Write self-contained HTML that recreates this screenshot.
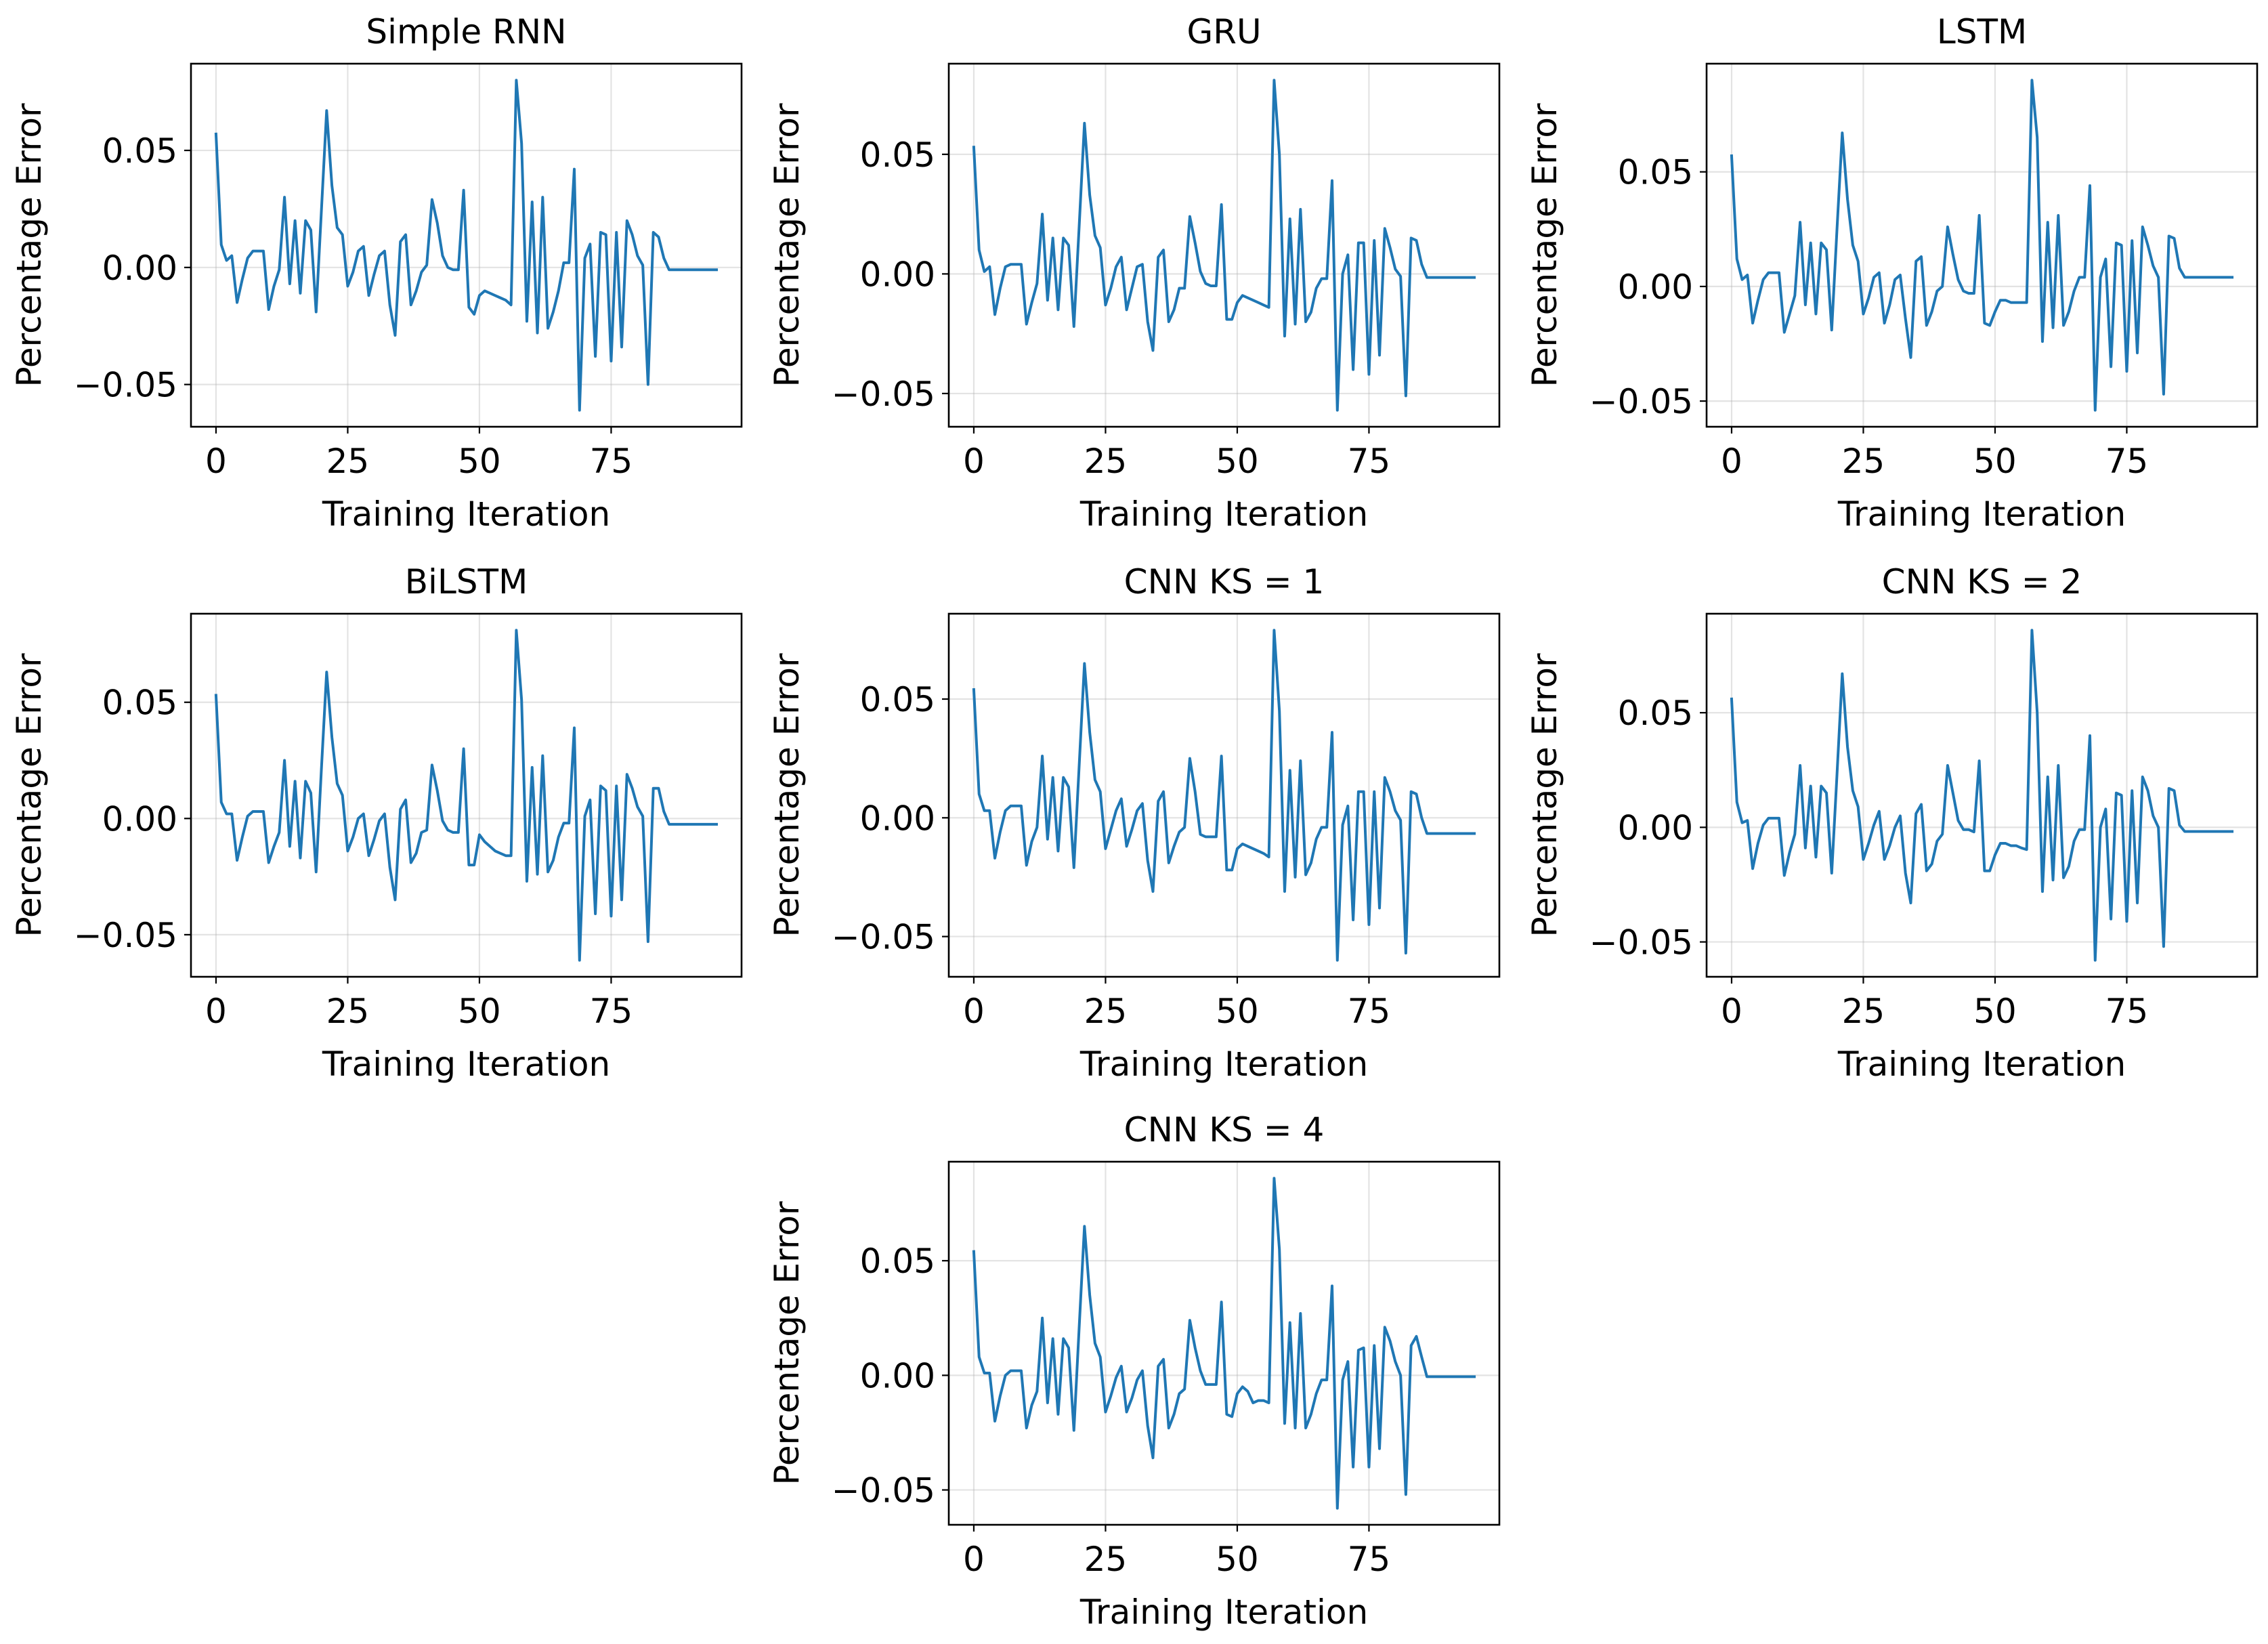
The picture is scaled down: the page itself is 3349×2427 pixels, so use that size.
<!DOCTYPE html>
<html><head><meta charset="utf-8">
<style>
html,body{margin:0;padding:0;background:#fff;}
svg{display:block;font-family:"DejaVu Sans","Liberation Sans",sans-serif;}
</style></head>
<body>
<svg id="fig" width="3349" height="2427" viewBox="0 0 3349 2427" xmlns="http://www.w3.org/2000/svg"></svg>
<script>
const titles = ["Simple RNN","GRU","LSTM","BiLSTM","CNN KS = 1","CNN KS = 2","CNN KS = 4"];
const xTicks = [0,25,50,75];
const yTicks = [-0.05,0,0.05];
const yTickLabels = ["\u22120.05","0.00","0.05"];
const rnnValues = [0.057,0.0097,0.003,0.005,-0.015,-0.005,0.004,0.007,0.007,0.007,-0.018,-0.008,-0.001,0.030,-0.007,0.020,-0.011,0.020,0.016,-0.019,0.024,0.067,0.035,0.017,0.014,-0.008,-0.002,0.007,0.009,-0.012,-0.003,0.005,0.007,-0.016,-0.029,0.011,0.014,-0.016,-0.010,-0.002,0.001,0.029,0.019,0.005,0.000,-0.001,-0.001,0.033,-0.017,-0.020,-0.012,-0.010,-0.011,-0.012,-0.013,-0.014,-0.016,0.080,0.053,-0.023,0.028,-0.028,0.030,-0.026,-0.019,-0.010,0.002,0.002,0.042,-0.061,0.004,0.010,-0.038,0.015,0.014,-0.040,0.015,-0.034,0.020,0.014,0.005,0.001,-0.050,0.015,0.013,0.004,-0.001,-0.001,-0.001,-0.001,-0.001,-0.001,-0.001,-0.001,-0.001,-0.001];
const gruValues = [0.053,0.010,0.001,0.003,-0.017,-0.006,0.003,0.004,0.004,0.004,-0.021,-0.012,-0.004,0.025,-0.011,0.015,-0.015,0.015,0.012,-0.022,0.020,0.063,0.033,0.016,0.011,-0.013,-0.006,0.003,0.007,-0.015,-0.006,0.003,0.004,-0.020,-0.032,0.007,0.010,-0.020,-0.015,-0.006,-0.006,0.024,0.013,0.001,-0.004,-0.005,-0.005,0.029,-0.019,-0.019,-0.012,-0.009,-0.010,-0.011,-0.012,-0.013,-0.014,0.081,0.050,-0.026,0.023,-0.021,0.027,-0.020,-0.016,-0.006,-0.002,-0.002,0.039,-0.057,0.000,0.008,-0.040,0.013,0.013,-0.042,0.014,-0.034,0.019,0.011,0.002,-0.001,-0.051,0.015,0.014,0.004,-0.0015,-0.0015,-0.0015,-0.0015,-0.0015,-0.0015,-0.0015,-0.0015,-0.0015,-0.0015];
const lstmValues = [0.057,0.012,0.003,0.005,-0.016,-0.006,0.003,0.006,0.006,0.006,-0.020,-0.012,-0.004,0.028,-0.008,0.019,-0.012,0.019,0.016,-0.019,0.025,0.067,0.038,0.018,0.011,-0.012,-0.005,0.004,0.006,-0.016,-0.008,0.003,0.005,-0.014,-0.031,0.011,0.013,-0.017,-0.011,-0.002,0.000,0.026,0.014,0.003,-0.002,-0.003,-0.003,0.031,-0.016,-0.017,-0.011,-0.006,-0.006,-0.007,-0.007,-0.007,-0.007,0.090,0.065,-0.024,0.028,-0.018,0.031,-0.017,-0.011,-0.002,0.004,0.004,0.044,-0.054,0.004,0.012,-0.035,0.019,0.018,-0.037,0.020,-0.029,0.026,0.018,0.009,0.004,-0.047,0.022,0.021,0.008,0.004,0.004,0.004,0.004,0.004,0.004,0.004,0.004,0.004,0.004];
const bilstmValues = [0.053,0.007,0.002,0.002,-0.018,-0.008,0.001,0.003,0.003,0.003,-0.019,-0.012,-0.006,0.025,-0.012,0.016,-0.017,0.016,0.011,-0.023,0.021,0.063,0.035,0.015,0.010,-0.014,-0.008,0.000,0.002,-0.016,-0.009,-0.001,0.002,-0.021,-0.035,0.004,0.008,-0.019,-0.015,-0.006,-0.005,0.023,0.012,-0.001,-0.005,-0.006,-0.006,0.030,-0.020,-0.020,-0.007,-0.010,-0.012,-0.014,-0.015,-0.016,-0.016,0.081,0.051,-0.027,0.022,-0.024,0.027,-0.023,-0.018,-0.008,-0.002,-0.002,0.039,-0.061,0.001,0.008,-0.041,0.014,0.012,-0.042,0.014,-0.035,0.019,0.013,0.005,0.001,-0.053,0.013,0.013,0.003,-0.0025,-0.0025,-0.0025,-0.0025,-0.0025,-0.0025,-0.0025,-0.0025,-0.0025,-0.0025];
const cnn1Values = [0.054,0.010,0.003,0.003,-0.017,-0.006,0.003,0.005,0.005,0.005,-0.020,-0.010,-0.004,0.026,-0.009,0.017,-0.014,0.017,0.013,-0.021,0.022,0.065,0.036,0.016,0.011,-0.013,-0.005,0.003,0.008,-0.012,-0.005,0.003,0.006,-0.018,-0.031,0.007,0.011,-0.019,-0.012,-0.006,-0.004,0.025,0.011,-0.007,-0.008,-0.008,-0.008,0.026,-0.022,-0.022,-0.013,-0.011,-0.012,-0.013,-0.014,-0.015,-0.0165,0.079,0.045,-0.031,0.020,-0.025,0.024,-0.024,-0.019,-0.009,-0.004,-0.004,0.036,-0.060,-0.003,0.005,-0.043,0.011,0.011,-0.045,0.011,-0.038,0.017,0.011,0.003,-0.001,-0.057,0.011,0.010,0.000,-0.0066,-0.0066,-0.0066,-0.0066,-0.0066,-0.0066,-0.0066,-0.0066,-0.0066,-0.0066];
const cnn2Values = [0.056,0.011,0.002,0.003,-0.018,-0.007,0.001,0.004,0.004,0.004,-0.021,-0.011,-0.003,0.027,-0.009,0.018,-0.013,0.018,0.015,-0.020,0.023,0.067,0.035,0.016,0.009,-0.014,-0.007,0.001,0.007,-0.014,-0.008,0.000,0.005,-0.020,-0.033,0.006,0.010,-0.019,-0.016,-0.006,-0.003,0.027,0.015,0.003,-0.001,-0.001,-0.002,0.029,-0.019,-0.019,-0.012,-0.007,-0.007,-0.008,-0.008,-0.009,-0.0097,0.086,0.050,-0.028,0.022,-0.023,0.027,-0.022,-0.017,-0.006,-0.001,-0.001,0.040,-0.058,0.000,0.008,-0.040,0.015,0.014,-0.041,0.016,-0.033,0.022,0.016,0.005,0.000,-0.052,0.017,0.016,0.001,-0.0018,-0.0018,-0.0018,-0.0018,-0.0018,-0.0018,-0.0018,-0.0018,-0.0018,-0.0018];
const cnn4Values = [0.054,0.008,0.001,0.001,-0.020,-0.009,0.000,0.002,0.002,0.002,-0.023,-0.013,-0.007,0.025,-0.012,0.016,-0.017,0.016,0.012,-0.024,0.021,0.065,0.035,0.014,0.008,-0.016,-0.009,-0.001,0.004,-0.016,-0.010,-0.002,0.002,-0.022,-0.036,0.004,0.007,-0.023,-0.017,-0.008,-0.006,0.024,0.012,0.002,-0.004,-0.004,-0.004,0.032,-0.017,-0.018,-0.008,-0.005,-0.007,-0.012,-0.011,-0.011,-0.012,0.086,0.055,-0.021,0.023,-0.023,0.027,-0.023,-0.017,-0.008,-0.002,-0.002,0.039,-0.058,-0.002,0.006,-0.040,0.011,0.012,-0.040,0.013,-0.032,0.021,0.015,0.006,0.000,-0.052,0.013,0.017,0.008,-0.0006,-0.0006,-0.0006,-0.0006,-0.0006,-0.0006,-0.0006,-0.0006,-0.0006,-0.0006];
const seriesList = [rnnValues,gruValues,lstmValues,bilstmValues,cnn1Values,cnn2Values,cnn4Values];
const panelNames = ["simple-rnn","gru","lstm","bilstm","cnn-ks1","cnn-ks2","cnn-ks4"];

const NS = "http://www.w3.org/2000/svg";
const fig = document.getElementById("fig");
const colX = [282,1401,2520], rowY = [94,906,1715];
const W = 813, H = 536;
const cells = [[0,0],[1,0],[2,0],[0,1],[1,1],[2,1],[1,2]];
function mk(tag, attrs, parent){ const e=document.createElementNS(NS,tag); for(const k in attrs) e.setAttribute(k,attrs[k]); parent.appendChild(e); return e; }

seriesList.forEach((vals, p) => {
  const x0 = colX[cells[p][0]], y0 = rowY[cells[p][1]];
  const g = mk("g", {}, fig);
  
  
  const n = vals.length;
  const xmin = 0 - 0.05*(n-1), xmax = (n-1) + 0.05*(n-1);
  let lo = Math.min(...vals), hi = Math.max(...vals);
  const pad = (hi-lo)*0.05; lo -= pad; hi += pad;
  const sx = v => x0 + (v - xmin)/(xmax - xmin)*W;
  const sy = v => y0 + H - (v - lo)/(hi - lo)*H;
  xTicks.forEach(t => {
    const l = mk("line",{x1:sx(t),x2:sx(t),y1:y0,y2:y0+H,stroke:"#b0b0b0","stroke-opacity":0.35,"stroke-width":2.2},g);
    
    
  });
  yTicks.forEach(t => {
    const l = mk("line",{x1:x0,x2:x0+W,y1:sy(t),y2:sy(t),stroke:"#b0b0b0","stroke-opacity":0.35,"stroke-width":2.2},g);
    
    
  });
  const d = vals.map((v,i)=>(i?"L":"M")+sx(i).toFixed(2)+","+sy(v).toFixed(2)).join("");
  const path = mk("path",{d:d,fill:"none",stroke:"#1f77b4","stroke-width":4,"stroke-linejoin":"round","stroke-linecap":"square"},g);
  
  
  const box = mk("rect",{x:x0,y:y0,width:W,height:H,fill:"none",stroke:"#000","stroke-width":2.6},g);
  
  
  xTicks.forEach(t => {
    const tk = mk("line",{x1:sx(t),x2:sx(t),y1:y0+H,y2:y0+H+10,stroke:"#000","stroke-width":2.2},g);
    
    
    const tx = mk("text",{x:sx(t),y:y0+H+68,"font-size":50,"text-anchor":"middle",fill:"#000"},g);
    tx.textContent = String(t);
    
    
  });
  yTicks.forEach((t,i) => {
    const tk = mk("line",{x1:x0-10,x2:x0,y1:sy(t),y2:sy(t),stroke:"#000","stroke-width":2.2},g);
    
    
    const tx = mk("text",{x:x0-20,y:sy(t)+18,"font-size":50,"text-anchor":"end",fill:"#000"},g);
    tx.textContent = yTickLabels[i];
    
    
  });
  const tt = mk("text",{x:x0+W/2,y:y0-30,"font-size":50,"text-anchor":"middle",fill:"#000"},g);
  tt.textContent = titles[p];
  
  
  const xl = mk("text",{x:x0+W/2,y:y0+H+146,"font-size":50,"text-anchor":"middle",fill:"#000"},g);
  xl.textContent = "Training Iteration";
  
  
  const yl = mk("text",{x:0,y:0,"font-size":50,"text-anchor":"middle",fill:"#000",transform:"translate("+(x0-222)+","+(y0+H/2)+") rotate(-90)"},g);
  yl.textContent = "Percentage Error";
  
  
});
</script>
</body></html>
